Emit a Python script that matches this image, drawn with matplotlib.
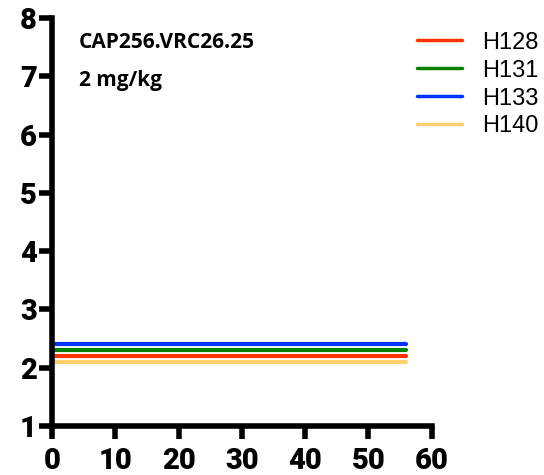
import numpy as np
import matplotlib.pyplot as plt

plt.rcParams['font.family'] = ['Liberation Sans', 'DejaVu Sans']

days = [0, 56]
names = ['H128', 'H131', 'H133', 'H140']
values = [2.2, 2.3, 2.4, 2.1]
colors = ['#FF3300', '#008000', '#0033FF', '#FFD070']
xticks = [0, 10, 20, 30, 40, 50, 60]
yticks = [1, 2, 3, 4, 5, 6, 7, 8]

fig = plt.figure(figsize=(5.44, 4.75), dpi=100)
ax = fig.add_axes([0.0956, 0.103, 0.698, 0.859])

for name, v, c in zip(names, values, colors):
    ax.plot(days, [v, v], color=c, lw=3, solid_capstyle='round', label=name, clip_on=False)

ax.set_xlim(0, 60)
ax.set_ylim(1, 8)
tick_font = dict(family='Roboto', weight='black', size=21)
ax.set_xticks(xticks)
ax.set_xticklabels([str(t) for t in xticks], **tick_font)
ax.set_yticks(yticks)
ax.set_yticklabels([str(t) for t in yticks], **tick_font)
for s in ['top', 'right']:
    ax.spines[s].set_visible(False)
for s in ['left', 'bottom']:
    ax.spines[s].set_linewidth(4)
ax.tick_params(width=4, length=9.5)
ax.tick_params(axis='x', pad=5.5)
ax.tick_params(axis='y', pad=1.5)

ax.text(0.07, 0.94, 'CAP256.VRC26.25', transform=ax.transAxes, fontsize=15,
        fontweight='bold', family='Open Sans', va='center')
ax.text(0.07, 0.847, '2 mg/kg', transform=ax.transAxes, fontsize=15,
        fontweight='bold', family='Open Sans', va='center')

leg = ax.legend(loc='upper left', bbox_to_anchor=(0.745, 0.958), bbox_transform=fig.transFigure,
                frameon=False, prop={'size': 17},
                handlelength=1.9, handletextpad=0.85, labelspacing=0.25, borderpad=0)
for h in leg.get_lines():
    h.set_linewidth(2.5)

fig.savefig('out.png', dpi=100)
